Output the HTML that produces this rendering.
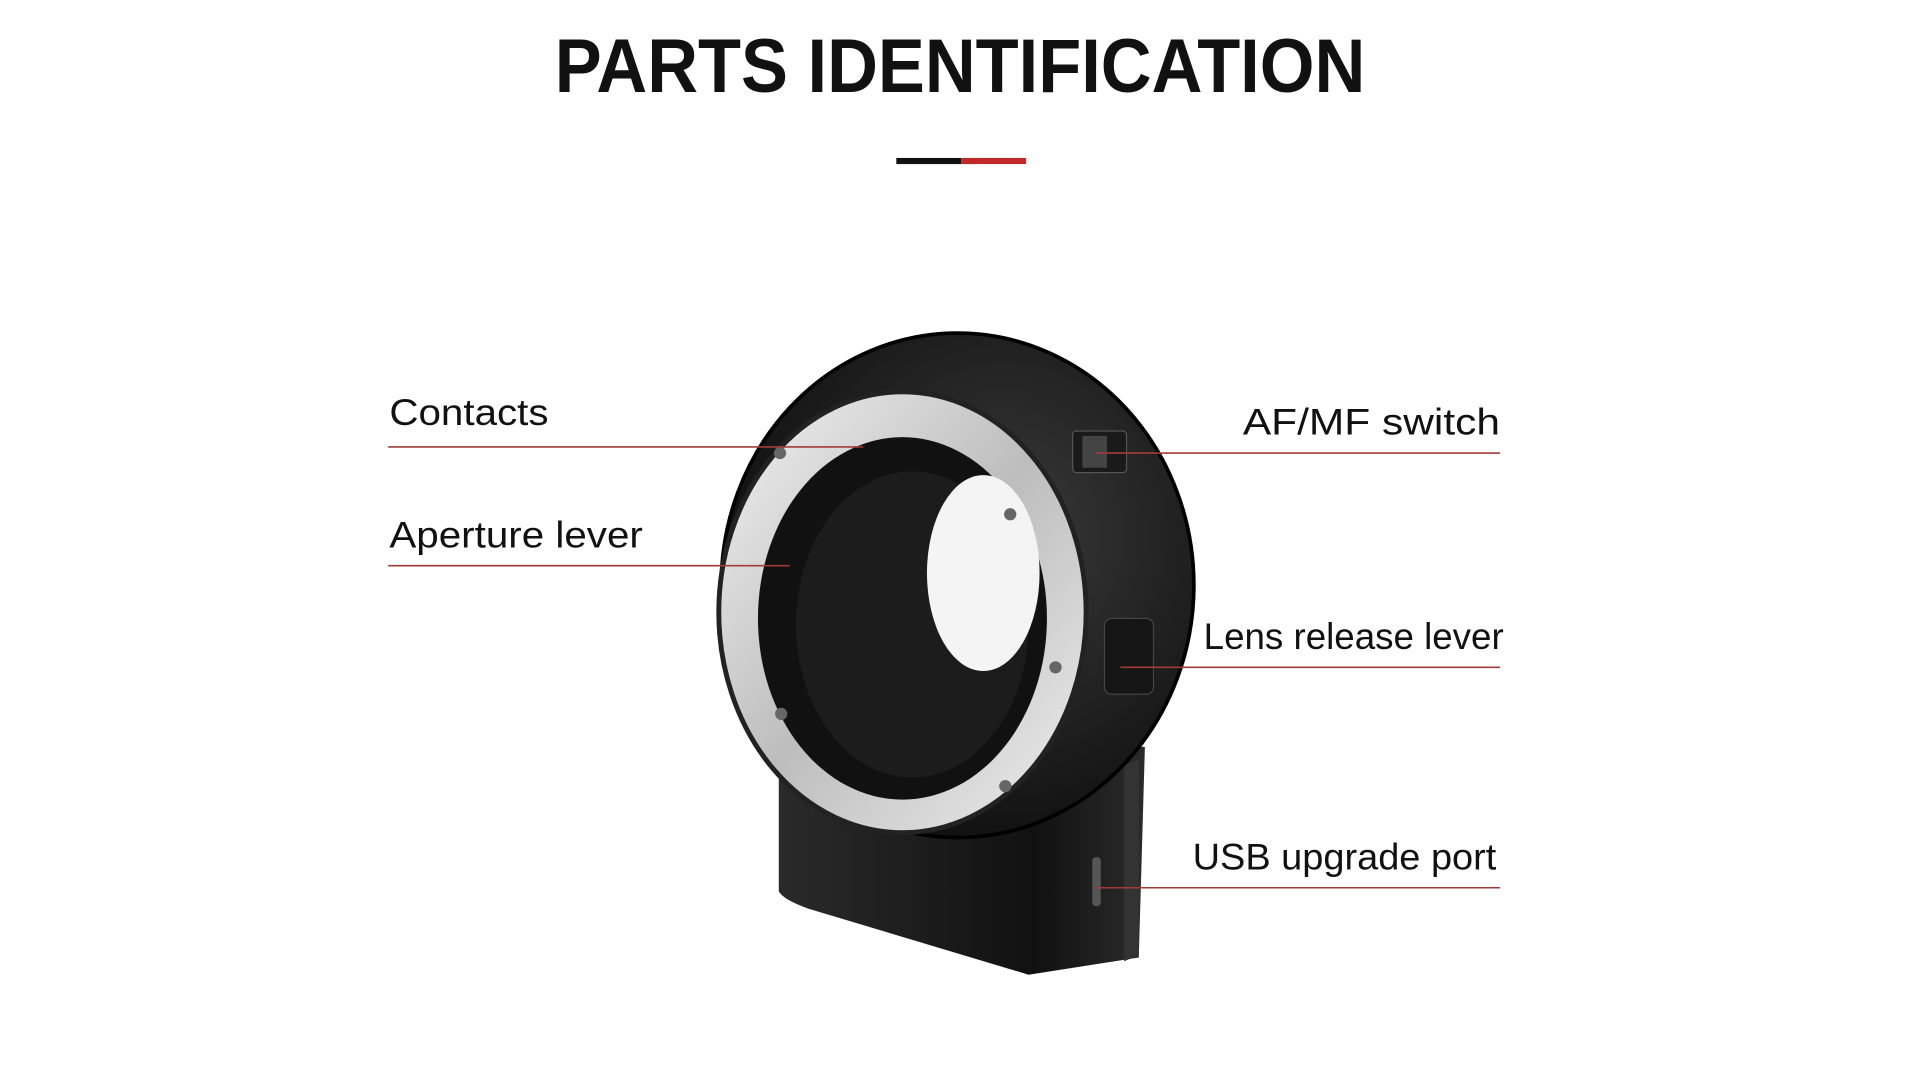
<!DOCTYPE html>
<html><head><meta charset="utf-8"><style>
html,body{margin:0;padding:0;background:#fff;width:1920px;height:1080px;overflow:hidden}
svg{display:block}
text{font-family:"Liberation Sans",sans-serif}
</style></head><body>
<svg width="1920" height="1080" viewBox="0 0 1568 882" preserveAspectRatio="none">
<defs>
<radialGradient id="body" cx="0.6" cy="0.4" r="0.7">
<stop offset="0" stop-color="#3a3a3a"/><stop offset="1" stop-color="#0b0b0b"/></radialGradient>
<linearGradient id="silver" x1="0" y1="0" x2="1" y2="1">
<stop offset="0" stop-color="#f2f2f2"/><stop offset="0.5" stop-color="#bdbdbd"/><stop offset="1" stop-color="#efefef"/></linearGradient>
<linearGradient id="base" x1="0" y1="0" x2="1" y2="0">
<stop offset="0" stop-color="#2a2a2a"/><stop offset="0.7" stop-color="#111"/><stop offset="1" stop-color="#2b2b2b"/></linearGradient>
</defs>
<rect width="1568" height="882" fill="#fff"/>
<text x="784" y="75" text-anchor="middle" font-size="62" font-weight="bold" fill="#111" textLength="662" lengthAdjust="spacingAndGlyphs">PARTS IDENTIFICATION</text>
<rect x="732" y="129" width="53" height="5" fill="#111"/>
<rect x="785" y="129" width="53" height="5" fill="#c0282a"/>

<!-- base block -->
<path d="M636 600 L636 728 Q640 735 660 742 L840 796 L930 782 L935 610 Z" fill="url(#base)"/>
<path d="M918 625 L930 620 L930 780 L918 785 Z" fill="#333"/>
<rect x="892" y="700" width="7" height="40" rx="3" fill="#555"/>
<!-- ring body -->
<ellipse cx="782" cy="478" rx="193" ry="206" fill="url(#body)"/>
<ellipse cx="782" cy="478" rx="193" ry="206" fill="none" stroke="#000" stroke-width="3"/>
<!-- switch & lever -->
<rect x="876" y="352" width="44" height="34" rx="3" fill="#1a1a1a" stroke="#555"/>
<rect x="884" y="356" width="20" height="26" fill="#444"/>
<rect x="902" y="505" width="40" height="62" rx="6" fill="#151515" stroke="#444"/>
<!-- silver front ring -->
<ellipse cx="737" cy="500" rx="150" ry="180" fill="url(#silver)" stroke="#222" stroke-width="4"/>
<ellipse cx="737" cy="505" rx="118" ry="148" fill="#111"/>
<ellipse cx="745" cy="510" rx="95" ry="125" fill="#1c1c1c"/>
<ellipse cx="803" cy="468" rx="46" ry="80" fill="#f4f4f4"/>
<circle cx="637" cy="370" r="5" fill="#666"/>
<circle cx="825" cy="420" r="5" fill="#666"/>
<circle cx="862" cy="545" r="5" fill="#666"/>
<circle cx="638" cy="583" r="5" fill="#666"/>
<circle cx="821" cy="642" r="5" fill="#666"/>

<!-- labels -->
<g fill="#111" font-size="30">
<text x="318" y="347" textLength="130" lengthAdjust="spacingAndGlyphs">Contacts</text>
<text x="318" y="447" textLength="207" lengthAdjust="spacingAndGlyphs">Aperture lever</text>
<text x="1225" y="355" text-anchor="end" textLength="210" lengthAdjust="spacingAndGlyphs">AF/MF switch</text>
<text x="1228" y="530" text-anchor="end" textLength="245" lengthAdjust="spacingAndGlyphs">Lens release lever</text>
<text x="1222" y="710" text-anchor="end" textLength="248" lengthAdjust="spacingAndGlyphs">USB upgrade port</text>
</g>
<g stroke="#a33a3a" stroke-width="1.3">
<line x1="317" y1="365" x2="705" y2="365"/>
<line x1="317" y1="462" x2="645" y2="462"/>
<line x1="895" y1="370" x2="1225" y2="370"/>
<line x1="915" y1="545" x2="1225" y2="545"/>
<line x1="895" y1="725" x2="1225" y2="725"/>
</g>
</svg>
</body></html>
